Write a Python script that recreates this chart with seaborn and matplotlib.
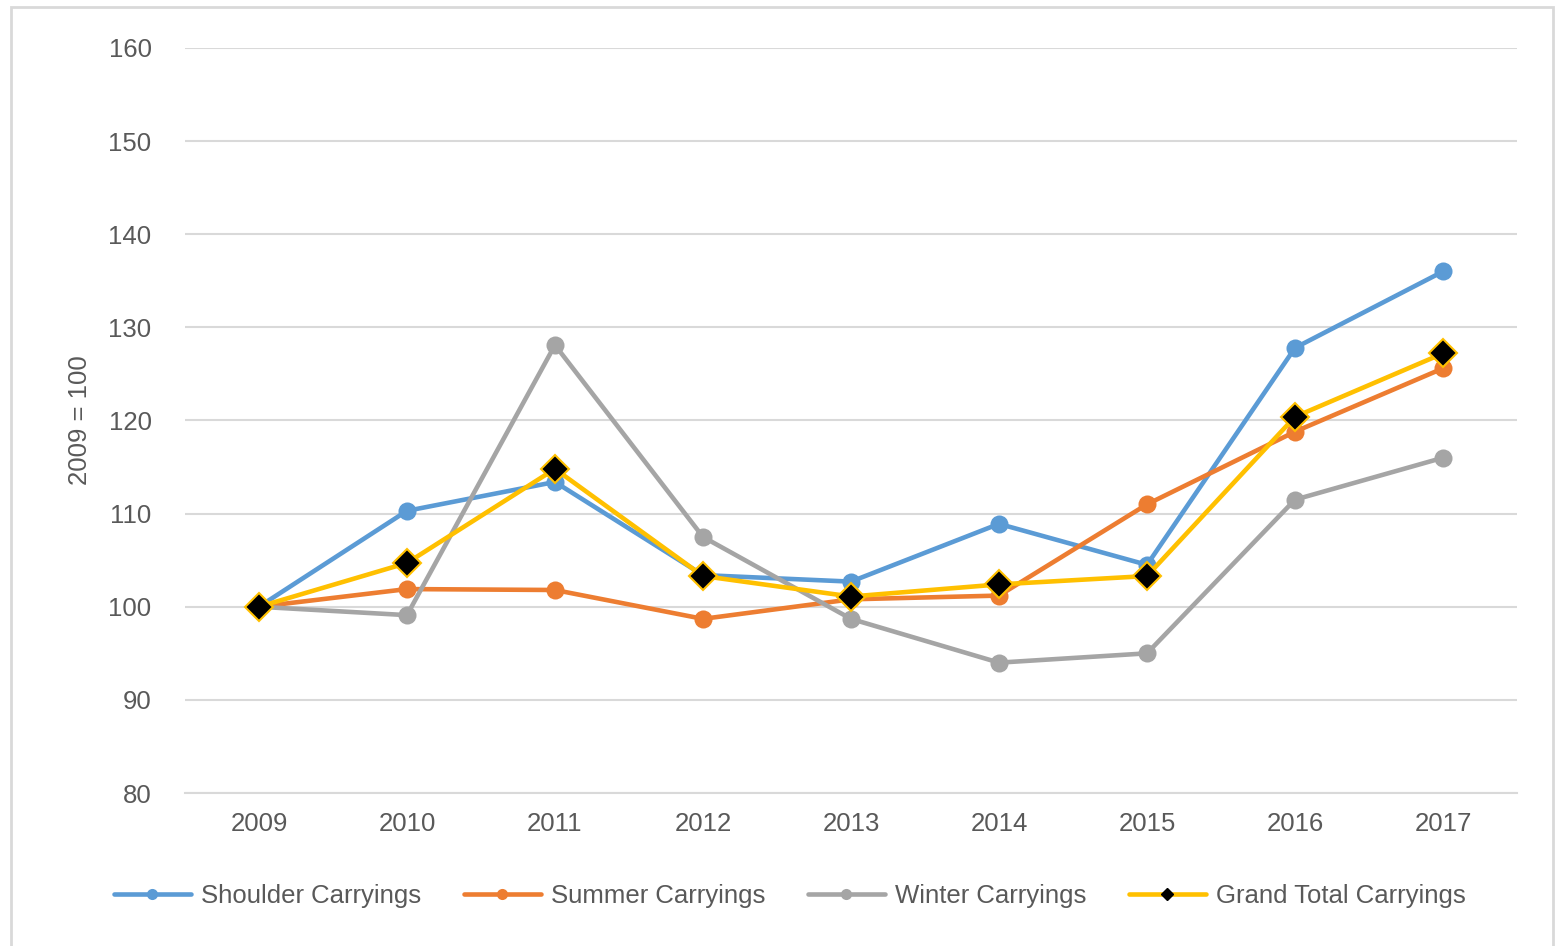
import seaborn as sns
import pandas as pd
import matplotlib.pyplot as plt
from matplotlib.lines import Line2D
from matplotlib.patches import Rectangle

years = ["2009", "2010", "2011", "2012", "2013", "2014", "2015", "2016", "2017"]
shoulder = [100, 110.3, 113.4, 103.4, 102.7, 108.9, 104.5, 127.8, 136.0]
summer = [100, 101.9, 101.8, 98.7, 100.8, 101.2, 111.0, 118.8, 125.6]
winter = [100, 99.1, 128.1, 107.5, 98.7, 94.0, 95.0, 111.5, 116.0]
grand_total = [100, 104.7, 114.8, 103.3, 101.1, 102.4, 103.3, 120.4, 127.2]
y_ticks = [80, 90, 100, 110, 120, 130, 140, 150, 160]

series = [
    ("Shoulder Carryings", shoulder, "#5B9BD5"),
    ("Summer Carryings", summer, "#ED7D31"),
    ("Winter Carryings", winter, "#A5A5A5"),
    ("Grand Total Carryings", grand_total, "#FFC000"),
]

sns.set_theme(style="white")
plt.rcParams['font.family'] = ['Liberation Sans', 'DejaVu Sans']

fig = plt.figure(figsize=(15.58, 9.46), dpi=100)
ax = fig.add_axes([0.1187, 0.1617, 0.855, 0.7876])

handles = []
for name, vals, col in series:
    df = pd.DataFrame({"Year": years, "Value": vals})
    if name.startswith("Grand"):
        sns.lineplot(data=df, x="Year", y="Value", ax=ax, color=col, linewidth=3.3,
                     marker="D", markersize=14, markerfacecolor="black",
                     markeredgecolor=col, markeredgewidth=1.5, zorder=5)
        handles.append(Line2D([], [], color=col, linewidth=3.3, marker="D", markersize=6,
                              markerfacecolor="black", markeredgecolor="black"))
    else:
        sns.lineplot(data=df, x="Year", y="Value", ax=ax, color=col, linewidth=3.3,
                     marker="o", markersize=13, markeredgewidth=0, zorder=3)
        handles.append(Line2D([], [], color=col, linewidth=3.3, marker="o", markersize=8,
                              markeredgewidth=0))

ax.set_xlim(-0.5, len(years) - 0.5)
ax.set_ylim(80, 160)
ax.set_yticks(y_ticks)
ax.yaxis.grid(True, color="#D9D9D9", linewidth=1.5)
ax.set_axisbelow(True)
for s in ["top", "right", "left"]:
    ax.spines[s].set_visible(False)
ax.spines["bottom"].set_color("#D9D9D9")
ax.spines["bottom"].set_linewidth(1.5)
ax.tick_params(axis="both", length=0, labelsize=18.5, labelcolor="#595959")
ax.tick_params(axis="x", pad=14)
ax.tick_params(axis="y", pad=24)
ax.set_xlabel("")
ax.set_ylabel("2009 = 100", fontsize=18.5, color="#595959", labelpad=12)

fig.legend(handles, [s[0] for s in series], loc="center", bbox_to_anchor=(0.507, 0.053),
           ncol=4, frameon=False, fontsize=18.5, labelcolor="#595959",
           handlelength=3, handletextpad=0.4, columnspacing=1.65)

fig.patches.append(Rectangle((0.007, -0.01), 0.99, 1.003, transform=fig.transFigure,
                             fill=False, edgecolor="#D9D9D9", linewidth=2))

plt.savefig("out.png")
